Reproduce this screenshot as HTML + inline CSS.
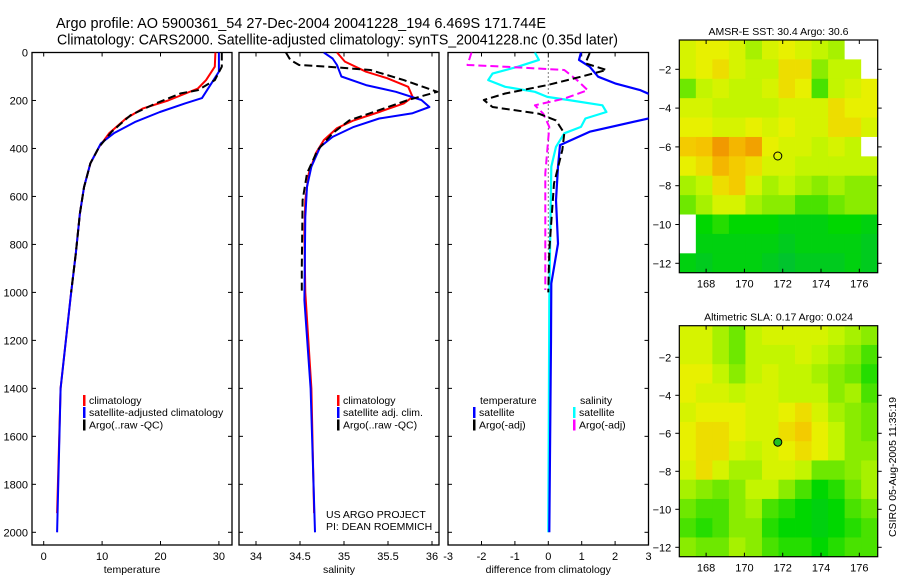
<!DOCTYPE html>
<html><head><meta charset="utf-8">
<style>
html,body{margin:0;padding:0;background:#fff;}
svg{display:block;font-family:"Liberation Sans",Arial,sans-serif;}
</style></head>
<body>
<svg id="fig" width="900" height="580" viewBox="0 0 900 580" xmlns="http://www.w3.org/2000/svg">
<defs>
<clipPath id="clipP1"><rect x="32" y="52.5" width="200" height="493"/></clipPath>
<clipPath id="clipP2"><rect x="239" y="52.5" width="200" height="493"/></clipPath>
<clipPath id="clipP3"><rect x="448" y="52.5" width="200.5" height="493"/></clipPath>
</defs>
<text x="56" y="28" font-size="15" textLength="490" lengthAdjust="spacingAndGlyphs">Argo profile: AO 5900361_54 27-Dec-2004 20041228_194 6.469S 171.744E</text>
<text x="57" y="44.5" font-size="15" textLength="561" lengthAdjust="spacingAndGlyphs">Climatology: CARS2000. Satellite-adjusted climatology: synTS_20041228.nc (0.35d later)</text>
<g id="charts"></g>
</svg>
<script>
// ---------- profile data ----------
// Temperature panel
const tClimDepth = [0,59,115,150,200,233,275,337,393,462,562,671,838,1020,1400,1920];
const tClimVal   = [29.4,29.3,27.8,26.4,21.3,17.0,14.1,11.2,9.5,8.0,6.9,6.2,5.5,4.6,2.9,2.3];
const tSatDepth  = [0,80,190,212,248,290,337,379,462,562,671,838,1020,1400,2000];
const tSatVal    = [30.0,30.0,27.1,24.2,19.9,15.6,12.0,9.8,8.0,6.9,6.2,5.5,4.6,2.9,2.3];
const tArgoDepth = [0,59,115,157,170,212,261,329,393,462,562,671,838,1000];
const tArgoVal   = [30.5,30.5,29.3,26.4,23.5,19.2,14.9,11.7,9.5,8.0,6.9,6.2,5.5,4.7];
// Salinity panel
const sClimDepth = [0,38,80,107,143,185,212,248,283,315,365,420,504,616,755,1000,1400,1920];
const sClimVal   = [34.92,35.01,35.25,35.49,35.73,35.78,35.68,35.40,35.11,34.92,34.77,34.68,34.60,34.56,34.55,34.56,34.63,34.66];
const sSatDepth  = [0,25,52,100,136,164,198,227,253,275,310,352,393,476,560,686,1033,1400,2000];
const sSatVal    = [34.77,34.87,34.92,34.97,35.25,35.59,35.88,35.97,35.78,35.40,35.11,34.87,34.73,34.63,34.58,34.56,34.55,34.62,34.67];
const sArgoDepth = [0,31,52,59,73,115,164,198,240,283,337,407,504,616,894,1000];
const sArgoVal   = [34.34,34.39,34.49,34.82,35.30,35.68,36.06,35.73,35.40,35.06,34.87,34.70,34.58,34.53,34.52,34.52];
// Difference panel
const dTSatDepth  = [0,31,59,101,129,157,178,200,250,275,330,386,476,616,797,963,1200,2000];
const dTSatVal    = [0.98,0.92,1.24,1.49,2.0,2.76,3.1,3.8,3.6,3.0,1.24,0.35,0.29,0.23,0.29,0.09,0.08,0.03];
const dTArgoDepth = [2,45,73,101,136,171,198,227,255,283,337,407,546,825,1000];
const dTArgoVal   = [1.24,1.11,1.74,0.98,-0.03,-1.29,-1.93,-1.67,-0.28,0.23,0.48,0.42,0.17,0.03,0.0];
const dSSatDepth  = [0,31,59,88,115,143,164,185,198,220,248,275,310,337,393,476,1033,2000];
const dSSatVal    = [-0.4,-0.28,-0.91,-1.67,-1.8,-1.29,-0.4,-0.03,0.6,1.62,1.74,1.11,0.98,0.48,0.23,0.09,0.03,0.0];
const dSArgoDepth = [0,52,59,73,115,157,192,220,255,310,407,504,755,990];
const dSArgoVal   = [-2.3,-2.42,-1.29,0.48,0.86,1.18,0.48,-0.4,-0.15,0.03,-0.03,-0.09,-0.09,-0.09];

const depthTicks = [0,200,400,600,800,1000,1200,1400,1600,1800,2000];
const tTicks = [0,10,20,30];
const sTicks = [34,34.5,35,35.5,36];
const sTickLabels = ["34","34.5","35","35.5","36"];
const dTicks = [-3,-2,-1,0,1,2,3];

// ---------- map data (12x12 grids, row 0 = north) ; -1 = no data ----------
const sstGrid = [
[.55,.6,.6,.55,.45,.55,.6,.55,.5,.45,-1,-1],
[.55,.6,.65,.55,.5,.5,.65,.65,.4,.5,.5,-1],
[.35,.5,.55,.5,.5,.55,.65,.6,.3,.5,.55,.6],
[.55,.55,.5,.5,.5,.5,.55,.55,.55,.65,.6,.6],
[.6,.6,.55,.55,.6,.55,.6,.55,.55,.65,.65,.55],
[.7,.72,.82,.75,.8,.6,.55,.55,.5,.55,.5,-1],
[.6,.65,.75,.7,.65,.55,.55,.5,.5,.5,.5,.5],
[.45,.5,.65,.7,.55,.45,.5,.45,.4,.45,.4,.4],
[.35,.45,.55,.55,.45,.4,.4,.3,.3,.35,.4,.4],
[-1,.2,.25,.2,.2,.2,.15,.15,.15,.2,.2,.15],
[-1,.15,.15,.15,.15,.15,.1,.15,.15,.15,.15,.1],
[.15,.1,.15,.15,.15,.1,.05,.1,.1,.1,.15,.1]];
const slaGrid = [
[.55,.55,.45,.35,.5,.55,.55,.55,.55,.5,.45,.4],
[.55,.55,.45,.35,.5,.5,.5,.55,.5,.45,.4,.3],
[.6,.6,.5,.4,.5,.55,.5,.5,.45,.4,.35,.25],
[.6,.55,.55,.5,.55,.55,.5,.5,.5,.4,.45,.3],
[.55,.6,.6,.6,.55,.55,.6,.65,.55,.45,.4,.35],
[.6,.65,.65,.6,.55,.55,.65,.7,.6,.5,.4,.35],
[.6,.65,.65,.55,.5,.55,.6,.65,.6,.5,.4,.4],
[.55,.65,.55,.45,.45,.55,.55,.5,.35,.35,.4,.45],
[.45,.4,.35,.4,.5,.5,.4,.3,.2,.25,.35,.45],
[.35,.3,.3,.4,.45,.3,.25,.2,.15,.2,.3,.35],
[.3,.25,.3,.4,.4,.25,.2,.2,.15,.2,.25,.3],
[.4,.35,.35,.45,.4,.3,.25,.25,.2,.25,.3,.3]];
const lonTicks = [168,170,172,174,176];
const latTicks = [-2,-4,-6,-8,-10,-12];
const argoLon = 171.744, argoLat = -6.469;

const NS = "http://www.w3.org/2000/svg";
const root = document.getElementById('charts');
function el(tag, attrs, parent, txt){
  const e = document.createElementNS(NS, tag);
  for (const k in attrs) e.setAttribute(k, attrs[k]);
  if (txt !== undefined) e.textContent = txt;
  (parent||root).appendChild(e);
  return e;
}
// depth axis
const Y0 = 52.5, YS = (532.3-52.5)/2000;
const yD = d => Y0 + d*YS;

const panels = [
  {x0:32, x1:232, sx: v => 43.7 + v*5.84, ticks:tTicks, labels:tTicks.map(String), title:"temperature", clip:"clipP1", name:"temperature"},
  {x0:239, x1:439, sx: v => 256 + (v-34)*88, ticks:sTicks, labels:sTickLabels, title:"salinity", clip:"clipP2", name:"salinity"},
  {x0:448, x1:648.5, sx: v => 548.3 + v*33.4, ticks:dTicks, labels:dTicks.map(String), title:"difference from climatology", clip:"clipP3", name:"difference"}
];
const PB = 545;

panels.forEach((p, pi) => {
  const g = el('g', {});
  
  
  const fr = el('rect', {x:p.x0, y:Y0, width:p.x1-p.x0, height:PB-Y0, fill:'none', stroke:'#000', 'stroke-width':1.3}, g);
  
  
  depthTicks.forEach(d => {
    el('line', {x1:p.x0, x2:p.x0+4, y1:yD(d), y2:yD(d), stroke:'#000'}, g);
    el('line', {x1:p.x1, x2:p.x1-4, y1:yD(d), y2:yD(d), stroke:'#000'}, g);
    if (pi === 0) {
      const t = el('text', {x:p.x0-4, y:yD(d)+4, 'font-size':11, 'text-anchor':'end'}, g, String(d));
      
      
    }
  });
  p.ticks.forEach((v, i) => {
    const x = p.sx(v);
    el('line', {x1:x, x2:x, y1:Y0, y2:Y0+4, stroke:'#000'}, g);
    el('line', {x1:x, x2:x, y1:PB, y2:PB-4, stroke:'#000'}, g);
    const t = el('text', {x:x, y:PB+15, 'font-size':11, 'text-anchor':'middle'}, g, p.labels[i]);
    
    
  });
  const at = el('text', {x:(p.x0+p.x1)/2, y:PB+28, 'font-size':10.5, 'text-anchor':'middle'}, g, p.title);
  
  
});

function series(pi, depths, vals, color, dashed, name, width){
  const p = panels[pi];
  const pts = depths.map((d,i) => p.sx(vals[i]).toFixed(1) + ',' + yD(d).toFixed(1)).join(' ');
  const a = {points:pts, fill:'none', stroke:color, 'stroke-width':width||2, 'clip-path':'url(#'+p.clip+')', 'stroke-linejoin':'round'};
  if (dashed) a['stroke-dasharray'] = '8,4';
  const l = el('polyline', a);
  
  
}
const zl = el('line', {x1:panels[2].sx(0), x2:panels[2].sx(0), y1:Y0, y2:yD(1000), stroke:'#000', 'stroke-dasharray':'1,3'});



series(0, tClimDepth, tClimVal, '#f00', false, 'temperature-climatology-line');
series(0, tSatDepth, tSatVal, '#00f', false, 'temperature-satellite-line');
series(0, tArgoDepth, tArgoVal, '#000', true, 'temperature-argo-line');
series(1, sClimDepth, sClimVal, '#f00', false, 'salinity-climatology-line');
series(1, sSatDepth, sSatVal, '#00f', false, 'salinity-satellite-line');
series(1, sArgoDepth, sArgoVal, '#000', true, 'salinity-argo-line');
series(2, dSSatDepth, dSSatVal, '#0ff', false, 'salinity-satellite-diff-line', 2.2);
series(2, dSArgoDepth, dSArgoVal, '#f0f', true, 'salinity-argo-diff-line');
series(2, dTSatDepth, dTSatVal, '#00f', false, 'temperature-satellite-diff-line', 2.2);
series(2, dTArgoDepth, dTArgoVal, '#000', true, 'temperature-argo-diff-line');

function legendEntry(x, y, color, label, name){
  const g = el('g', {});
  
  
  if (color) el('rect', {x:x, y:y-9, width:2.5, height:11, fill:color}, g);
  el('text', {x:x+6, y:y, 'font-size':10.5}, g, label);
}
legendEntry(83, 404, '#f00', 'climatology', 'legend-entry-climatology');
legendEntry(83, 416, '#00f', 'satellite-adjusted climatology', 'legend-entry-satellite');
legendEntry(83, 428.5, '#000', 'Argo(..raw -QC)', 'legend-entry-argo');
legendEntry(337, 404, '#f00', 'climatology', 'legend-entry-climatology-2');
legendEntry(337, 416, '#00f', 'satellite adj. clim.', 'legend-entry-satellite-2');
legendEntry(337, 428.5, '#000', 'Argo(..raw -QC)', 'legend-entry-argo-2');
legendEntry(474, 404, null, 'temperature', 'legend-header-temperature');
legendEntry(473, 416, '#00f', 'satellite', 'legend-entry-temp-satellite');
legendEntry(473, 428.5, '#000', 'Argo(-adj)', 'legend-entry-temp-argo');
legendEntry(574, 404, null, 'salinity', 'legend-header-salinity');
legendEntry(573, 416, '#0ff', 'satellite', 'legend-entry-sal-satellite');
legendEntry(573, 428.5, '#f0f', 'Argo(-adj)', 'legend-entry-sal-argo');
const c1 = el('text', {x:326, y:518, 'font-size':10.5}, root, 'US ARGO PROJECT');


const c2 = el('text', {x:326, y:530, 'font-size':10.5}, root, 'PI: DEAN ROEMMICH');



// ---------- maps ----------
const stops = [[0,[0,190,60]],[0.2,[0,215,0]],[0.35,[110,232,0]],[0.5,[195,245,0]],[0.6,[232,240,0]],[0.72,[245,195,0]],[0.85,[240,140,0]],[1,[220,100,0]]];
function colorOf(v){
  if (v < 0) return '#fff';
  for (let i=1;i<stops.length;i++){
    if (v <= stops[i][0]){
      const a = stops[i-1], b = stops[i], t = (v-a[0])/(b[0]-a[0]);
      const c = a[1].map((ch,k) => Math.round(ch + (b[1][k]-ch)*t));
      return 'rgb('+c.join(',')+')';
    }
  }
  return 'rgb(220,100,0)';
}
function drawMap(cfg){
  const g = el('g', {});
  
  
  const lonL = 166.6, lonR = 176.96;
  const sx = lon => cfg.x0 + (lon-lonL)/(lonR-lonL)*(cfg.x1-cfg.x0);
  const sy = lat => cfg.yRef + (cfg.latRef - lat)*cfg.pxPerDeg;
  const latTop = cfg.latRef + (cfg.yRef - cfg.y0)/cfg.pxPerDeg;
  const latBot = cfg.latRef - (cfg.y1 - cfg.yRef)/cfg.pxPerDeg;
  const rows = cfg.grid.length, cols = cfg.grid[0].length;
  const dLon = (lonR-lonL)/cols, dLat = (latTop-latBot)/rows;
  cfg.grid.forEach((row, r) => row.forEach((v, c) => {
    const x = sx(lonL + c*dLon), y = sy(latTop - r*dLat);
    const cell = el('rect', {x:x.toFixed(2), y:y.toFixed(2), width:(sx(lonL+(c+1)*dLon)-x+0.4).toFixed(2), height:(sy(latTop-(r+1)*dLat)-y+0.4).toFixed(2), fill:colorOf(v)}, g);
    
    
  }));
  el('rect', {x:cfg.x0, y:cfg.y0, width:cfg.x1-cfg.x0, height:cfg.y1-cfg.y0, fill:'none', stroke:'#000', 'stroke-width':1.2}, g);
  lonTicks.forEach(lon => {
    const x = sx(lon);
    el('line', {x1:x, x2:x, y1:cfg.y0, y2:cfg.y0+4, stroke:'#000'}, g);
    el('line', {x1:x, x2:x, y1:cfg.y1, y2:cfg.y1-4, stroke:'#000'}, g);
    const t = el('text', {x:x, y:cfg.y1+15, 'font-size':11, 'text-anchor':'middle'}, g, String(lon));
    
    
  });
  latTicks.forEach(lat => {
    const y = sy(lat);
    el('line', {x1:cfg.x0-4, x2:cfg.x0, y1:y, y2:y, stroke:'#000'}, g);
    el('line', {x1:cfg.x1, x2:cfg.x1+4, y1:y, y2:y, stroke:'#000'}, g);
    const t = el('text', {x:cfg.x0-8, y:y+4, 'font-size':11, 'text-anchor':'end'}, g, '\u2212' + String(-lat));
    
    
  });
  const tt = el('text', {x:(cfg.x0+cfg.x1)/2, y:cfg.y0-5, 'font-size':10.5, 'text-anchor':'middle'}, g, cfg.title);
  
  
  const m = el('circle', {cx:sx(argoLon), cy:sy(argoLat), r:4, fill:cfg.markFill, stroke:'#000', 'stroke-width':1}, g);
  
  
}
drawMap({name:'sst-map', grid:sstGrid, x0:679.3, x1:877.7, y0:40, y1:272.7, yRef:263.3, latRef:-12, pxPerDeg:19.4, title:'AMSR-E SST: 30.4 Argo: 30.6', markFill:'none'});
drawMap({name:'sla-map', grid:slaGrid, x0:679.3, x1:877.7, y0:325.7, y1:556.7, yRef:547.3, latRef:-12, pxPerDeg:19, title:'Altimetric SLA: 0.17 Argo: 0.024', markFill:'#20c020'});

const st = el('text', {x:0, y:0, 'font-size':10.5, 'text-anchor':'middle', transform:'translate(896,467) rotate(-90)'}, root, 'CSIRO 05-Aug-2005 11:35:19');


</script>
</body></html>
